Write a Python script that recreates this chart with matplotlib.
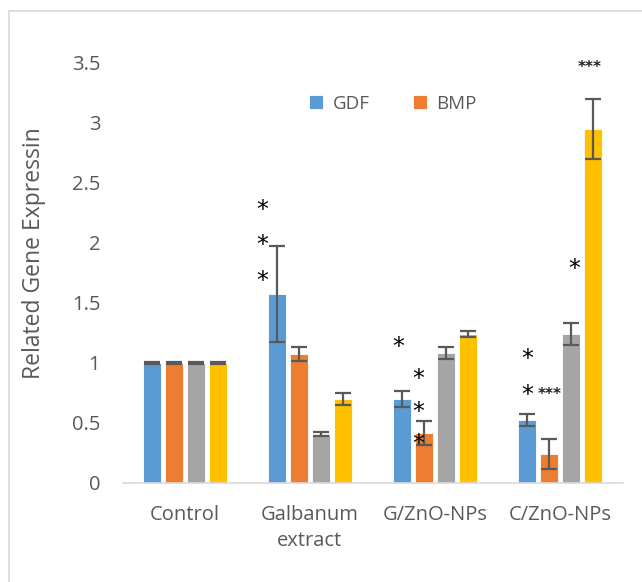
import matplotlib
matplotlib.use("Agg")
import matplotlib.pyplot as plt
import numpy as np
from matplotlib.patches import Rectangle

categories = ["Control", "Galbanum\nextract", "G/ZnO-NPs", "C/ZnO-NPs"]
series_names = ["GDF", "BMP", "", ""]
gdf = [1.0, 1.575, 0.70, 0.525]
bmp = [1.0, 1.075, 0.415, 0.24]
s3 = [1.0, 0.408, 1.08, 1.24]
s4 = [1.0, 0.70, 1.24, 2.95]
gdf_err = [0.005, 0.40, 0.07, 0.05]
bmp_err = [0.005, 0.06, 0.10, 0.125]
s3_err = [0.005, 0.02, 0.05, 0.09]
s4_err = [0.005, 0.05, 0.025, 0.25]
yticks = [0, 0.5, 1, 1.5, 2, 2.5, 3, 3.5]
ytick_labels = ["0", "0.5", "1", "1.5", "2", "2.5", "3", "3.5"]

# significance marks: (text, x, y)
big_marks = [("*", 0.616, 2.275), ("*", 0.616, 1.985), ("*", 0.616, 1.685),
             ("*", 1.704, 1.135), ("*", 1.864, 0.865), ("*", 1.864, 0.59), ("*", 1.864, 0.325),
             ("*", 2.736, 1.035), ("*", 2.736, 0.735), ("*", 3.112, 1.785)]
small_marks = [("***", 2.915, 0.74), ("***", 3.24, 3.46)]

colors = ["#5B9BD5", "#ED7D31", "#A5A5A5", "#FFC000"]
plt.rcParams['font.family'] = ['Open Sans', 'DejaVu Sans']

fig = plt.figure(figsize=(6.42, 5.82), dpi=100)
fig.patches.append(Rectangle((9/642, -0.1), 1.2, 1 - 11/582 + 0.1, transform=fig.transFigure,
                             fill=False, edgecolor="#d9d9d9", linewidth=1.2))
ax = fig.add_axes([122.5/642, 1 - 483/582, 500/642, 420/582])

x = np.arange(len(categories))
w = 0.144
step = 0.176
data = [gdf, bmp, s3, s4]
errs = [gdf_err, bmp_err, s3_err, s4_err]
for i, (vals, er, c, nm) in enumerate(zip(data, errs, colors, series_names)):
    ax.bar(x + (i - 1.5) * step, vals, width=w, color=c, edgecolor="white", linewidth=0.6,
           label=nm if nm else "_nolegend_", zorder=2)
    ax.errorbar(x + (i - 1.5) * step, vals, yerr=er, fmt="none", ecolor="#595959",
                elinewidth=1.6, capsize=6, capthick=1.6, zorder=3)

for t, xx, yy in big_marks:
    ax.text(xx, yy, t, fontsize=17, color="black", ha="center", va="center",
            family="DejaVu Sans")
for t, xx, yy in small_marks:
    ax.text(xx, yy, t, fontsize=11, color="#222222", ha="center", va="center",
            family="DejaVu Sans", fontweight="bold")

ax.set_xlim(-0.5, 3.5)
ax.set_ylim(0, 3.5)
ax.set_yticks(yticks)
ax.set_yticklabels(ytick_labels)
ax.set_xticks(x)
ax.set_xticklabels(categories, linespacing=1.4)
ax.tick_params(axis="both", length=0, labelsize=14.5, labelcolor="#595959")
ax.tick_params(axis="y", pad=16)
ax.tick_params(axis="x", pad=16)
for s in ["top", "right", "left"]:
    ax.spines[s].set_visible(False)
ax.spines["bottom"].set_color("#d9d9d9")
ax.spines["bottom"].set_linewidth(1.2)
ax.set_ylabel("Related Gene Expressin", fontsize=16.5, color="#595959")
ax.yaxis.set_label_coords(-0.152, 0.548)

leg = ax.legend(loc="upper left", bbox_to_anchor=(0.34, 0.965), ncol=2, frameon=False,
                fontsize=13.5, handlelength=0.75, handleheight=0.75, columnspacing=2.3,
                handletextpad=0.5)
for t in leg.get_texts():
    t.set_color("#595959")

fig.savefig("out.png", dpi=100)
